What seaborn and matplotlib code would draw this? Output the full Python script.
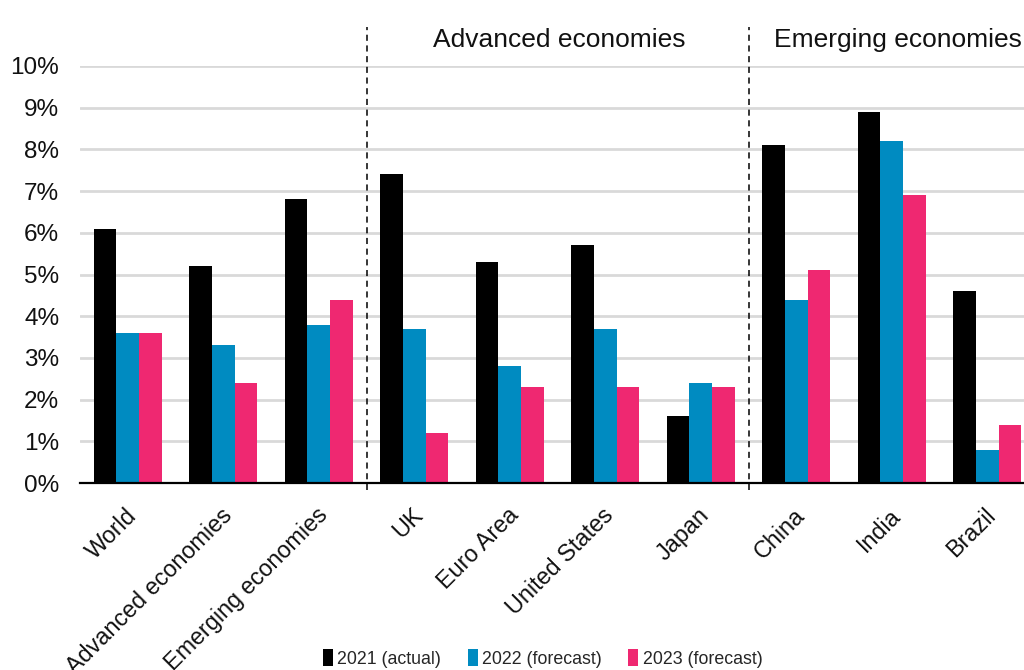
import matplotlib
matplotlib.use("Agg")
import matplotlib.pyplot as plt
import matplotlib.transforms as mtransforms
from matplotlib.patches import Patch
import numpy as np
import pandas as pd
import seaborn as sns

# GDP growth by economy: 2021 outturn and forecasts for 2022 and 2023 (%)
economies = ["World", "Advanced economies", "Emerging economies", "UK",
             "Euro Area", "United States", "Japan", "China", "India", "Brazil"]
series_names = ["2021 (actual)", "2022 (forecast)", "2023 (forecast)"]
growth_2021 = [6.1, 5.2, 6.8, 7.4, 5.3, 5.7, 1.6, 8.1, 8.9, 4.6]
growth_2022 = [3.6, 3.3, 3.8, 3.7, 2.8, 3.7, 2.4, 4.4, 8.2, 0.8]
growth_2023 = [3.6, 2.4, 4.4, 1.2, 2.3, 2.3, 2.3, 5.1, 6.9, 1.4]
y_ticks = [0, 1, 2, 3, 4, 5, 6, 7, 8, 9, 10]
group_titles = ["Advanced economies", "Emerging economies"]

colors = ["#000000", "#008BC1", "#EF2871"]

df = pd.DataFrame({
    "economy": economies * 3,
    "series": np.repeat(series_names, len(economies)),
    "growth": growth_2021 + growth_2022 + growth_2023,
})

sns.set_theme(style="white")
plt.rcParams["font.family"] = ["Liberation Sans", "DejaVu Sans"]

fig = plt.figure(figsize=(10.24, 6.70), dpi=100)
W, H = 1024, 670
ax = fig.add_axes([80 / W, (H - 483) / H, 955 / W, 417 / H])

sns.barplot(data=df, x="economy", y="growth", hue="series",
            order=economies, hue_order=series_names, palette=colors,
            width=0.71, linewidth=0, saturation=1, legend=False, ax=ax)

ax.set_xlim(-0.5, len(economies) - 0.5)
ax.set_ylim(0, 10)
ax.set_yticks(y_ticks)
ax.set_yticklabels([f"{t}%" for t in y_ticks])
ax.set_xlabel("")
ax.set_ylabel("")

# light horizontal gridlines
for t in y_ticks[1:]:
    ax.axhline(t, color="#d9d9d9", lw=2.0, zorder=0)
ax.set_axisbelow(True)

for side in ["top", "right", "left"]:
    ax.spines[side].set_visible(False)
ax.spines["bottom"].set_color("black")
ax.spines["bottom"].set_linewidth(1.6)
ax.spines["bottom"].set_zorder(5)

ax.tick_params(axis="y", length=0, pad=15, labelsize=17.5, colors="#111111")
ax.tick_params(axis="x", length=0, pad=15, labelsize=16.8, colors="#111111")
offset = mtransforms.ScaledTranslation(-3 / 100, 0, fig.dpi_scale_trans)
for lab in ax.get_xticklabels():
    lab.set_rotation(45)
    lab.set_ha("right")
    lab.set_va("top")
    lab.set_rotation_mode("anchor")
    lab.set_transform(lab.get_transform() + offset)

# dashed separators between groups of economies
for xsep in [2.5, 6.5]:
    ax.plot([xsep, xsep], [-0.17, 10.94], color="black", lw=1.1,
            dashes=(4, 3), clip_on=False, zorder=6)

ax.text(4.52, 10.62, group_titles[0], ha="center", va="center",
        fontsize=19, color="#111111", clip_on=False)
ax.text(8.06, 10.62, group_titles[1], ha="center", va="center",
        fontsize=19, color="#111111", clip_on=False)

handles = [Patch(facecolor=c, edgecolor="none", label=n)
           for c, n in zip(colors, series_names)]
fig.legend(handles=handles, loc="center", bbox_to_anchor=(0.530, 0.017),
           ncol=3, frameon=False, handlelength=0.55, handleheight=1.1,
           handletextpad=0.25, columnspacing=1.5,
           prop={"family": ["Liberation Sans Narrow", "Liberation Sans"],
                 "size": 12.8})

fig.savefig("out.png", dpi=100)
